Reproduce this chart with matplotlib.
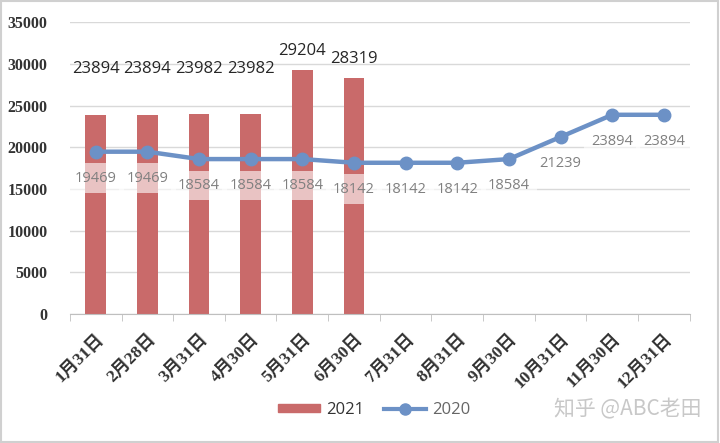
import matplotlib
matplotlib.use("Agg")
import matplotlib.pyplot as plt
from matplotlib.lines import Line2D
from matplotlib.patches import Patch, Rectangle

# data
months = ["1月31日", "2月28日", "3月31日", "4月30日", "5月31日", "6月30日",
          "7月31日", "8月31日", "9月30日", "10月31日", "11月30日", "12月31日"]
values_2021 = [23894, 23894, 23982, 23982, 29204, 28319]
values_2020 = [19469, 19469, 18584, 18584, 18584, 18142,
               18142, 18142, 18584, 21239, 23894, 23894]
yticks = [0, 5000, 10000, 15000, 20000, 25000, 30000, 35000]

bar_color = "#C96A6A"
line_color = "#6C91C6"
serif_cjk = ["Liberation Serif", "Noto Sans CJK SC"]
label_font = ["Open Sans", "DejaVu Sans"]

fig = plt.figure(figsize=(7.2, 4.43), dpi=100)
ax = fig.add_axes([0.097, 0.291, 0.861, 0.659])

x = list(range(len(months)))
ax.bar(x[:len(values_2021)], values_2021, width=0.4, color=bar_color, zorder=2)
ax.plot(x, values_2020, color=line_color, lw=3.2, marker="o", ms=9, zorder=4)

# 2021 labels above bars (first four sit a bit higher in the original)
for i, v in enumerate(values_2021):
    off = 27 if v < 25000 else 8
    ax.annotate(f"{v}", (i, v), xytext=(0, off), textcoords="offset points",
                ha="center", va="bottom", fontsize=12, color="#262626",
                family=label_font)

# 2020 labels under the points, with a whitish box
for i, v in enumerate(values_2020):
    ax.annotate(f"{v}", (i, v), xytext=(0, -19), textcoords="offset points",
                ha="center", va="center", fontsize=10.5, color="#808080",
                family=label_font, zorder=3,
                bbox=dict(boxstyle="square,pad=0.5", fc="white", ec="none", alpha=0.6))

ax.set_xlim(-0.5, len(months) - 0.5)
ax.set_ylim(0, 35000)
ax.set_yticks(yticks)
ax.set_yticklabels([str(t) for t in yticks], family="Liberation Serif",
                   fontweight="bold", fontsize=11.5, color="#333333")
ax.yaxis.grid(True, color="#d9d9d9", lw=1, zorder=0)
ax.tick_params(axis="y", length=0, pad=16)

ax.set_xticks(x)
ax.set_xticklabels(months, rotation=45, ha="right", rotation_mode="anchor",
                   family=serif_cjk, fontweight="bold", fontsize=12.5, color="#333333")
ax.set_xticks([i - 0.5 for i in range(len(months) + 1)], minor=True)
ax.tick_params(axis="x", which="major", length=0, pad=12)
ax.tick_params(axis="x", which="minor", length=5, color="#bfbfbf")

for s in ["top", "right", "left"]:
    ax.spines[s].set_visible(False)
ax.spines["bottom"].set_color("#bfbfbf")

handles = [Patch(color=bar_color, label="2021"),
           Line2D([0], [0], color=line_color, lw=3, marker="o", ms=8, label="2020")]
leg = fig.legend(handles=handles, loc="center", bbox_to_anchor=(0.52, 0.075), ncol=2,
                 frameon=False, handlelength=2.5, handleheight=0.4, columnspacing=1.2,
                 handletextpad=0.4, prop={"family": label_font, "size": 12})
leg.get_texts()[0].set_color("#333333")
leg.get_texts()[1].set_color("#666666")

fig.text(0.975, 0.075, "知乎 @ABC老田", ha="right", va="center", fontsize=15,
         color="#c8c8c8", family=["Noto Sans CJK SC", "DejaVu Sans"])

fig.patches.append(Rectangle((0.002, 0.003), 0.995, 0.994, transform=fig.transFigure,
                             fill=False, ec="#d0d0d0", lw=1.5))

fig.savefig("out.png", dpi=100)
